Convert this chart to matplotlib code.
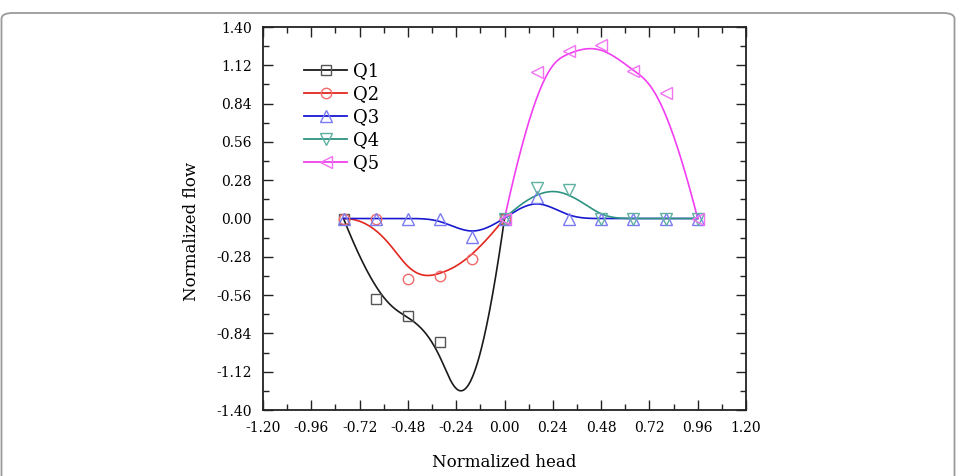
import numpy as np
import matplotlib
matplotlib.use("Agg")
import matplotlib.pyplot as plt
from matplotlib.lines import Line2D
from matplotlib.patches import FancyBboxPatch

# ---------------- data ----------------
q1_x = [-0.80, -0.64, -0.48, -0.32, -0.16, 0.00]
q1_y = [0.00, -0.59, -0.71, -0.90, -1.66, 0.00]   # -0.16 point lies below the axis range

q2_x = [-0.80, -0.64, -0.48, -0.32, -0.16, 0.00]
q2_y = [0.00, 0.00, -0.445, -0.42, -0.294, 0.00]

q3_x = [-0.80, -0.64, -0.48, -0.32, -0.16, 0.00, 0.16, 0.32, 0.48, 0.64, 0.80, 0.96]
q3_y = [0.00, 0.00, 0.00, 0.00, -0.137, 0.00, 0.16, 0.00, 0.00, 0.00, 0.00, 0.00]

q4_x = [0.00, 0.16, 0.32, 0.48, 0.64, 0.80, 0.96]
q4_y = [0.00, 0.22, 0.21, 0.00, 0.00, 0.00, 0.00]

q5_x = [0.00, 0.16, 0.32, 0.48, 0.64, 0.80, 0.96]
q5_y = [0.00, 1.073, 1.227, 1.268, 1.08, 0.915, 0.00]

labels = ["Q1", "Q2", "Q3", "Q4", "Q5"]
x_ticks = [-1.20, -0.96, -0.72, -0.48, -0.24, 0.00, 0.24, 0.48, 0.72, 0.96, 1.20]
y_ticks = [-1.40, -1.12, -0.84, -0.56, -0.28, 0.00, 0.28, 0.56, 0.84, 1.12, 1.40]


def bspline(xs, ys, n=500, k=3):
    """Clamped B-spline drawn over the data points (Origin-style B-spline line)."""
    P = np.column_stack([xs, ys]).astype(float)
    m = len(P)
    k = min(k, m - 1)
    knots = np.concatenate([np.zeros(k), np.linspace(0, 1, m - k + 1), np.ones(k)])
    t = np.linspace(0, 1, n)
    nk = len(knots)
    N = np.zeros((nk - 1, n))
    for i in range(nk - 1):
        N[i] = (t >= knots[i]) & (t < knots[i + 1])
    last = max(i for i in range(nk - 1) if knots[i] < knots[i + 1])
    N[last, t >= 1] = 1
    for p in range(1, k + 1):
        Nn = np.zeros((nk - 1 - p, n))
        for i in range(nk - 1 - p):
            d1 = knots[i + p] - knots[i]
            d2 = knots[i + p + 1] - knots[i + 1]
            a = (t - knots[i]) / d1 * N[i] if d1 > 0 else 0
            b = (knots[i + p + 1] - t) / d2 * N[i + 1] if d2 > 0 else 0
            Nn[i] = a + b
        N = Nn
    C = N.T @ P
    return C[:, 0], C[:, 1]


plt.rcParams['font.family'] = ['DejaVu Serif']
plt.rcParams['axes.unicode_minus'] = False

fig = plt.figure(figsize=(9.59, 4.76), dpi=100)
ax = fig.add_axes([263 / 959, 1 - 410 / 476, 483 / 959, 383 / 476])

series = [
    (q1_x, q1_y, '#1a1a1a', '#555555', 's', 6.5),
    (q2_x, q2_y, '#e3261d', '#f06a6a', 'o', 7.5),
    (q3_x, q3_y, '#1818d0', '#7a7af2', '^', 8),
    (q4_x, q4_y, '#2e9282', '#5fb0a2', 'v', 8),
    (q5_x, q5_y, '#f23ef2', '#f272f2', '<', 8),
]

handles = []
for (xs, ys, lc, mc, mk, ms), lab in zip(series, labels):
    cx, cy = bspline(xs, ys)
    ax.plot(cx, cy, color=lc, lw=1.2, zorder=2)
    ax.plot(xs, ys, ls='none', marker=mk, ms=ms, mfc='none', mec=mc, mew=1.0, zorder=3)
    handles.append(Line2D([], [], color=lc, lw=1.3, marker=mk, ms=ms, mfc='none',
                          mec=mc, mew=1.0))

ax.set_xlim(-1.2, 1.2)
ax.set_ylim(-1.4, 1.4)
ax.set_xticks(x_ticks)
ax.set_yticks(y_ticks)
ax.set_xticklabels([f"{v:.2f}" for v in x_ticks])
ax.set_yticklabels([f"{v:.2f}" for v in y_ticks])
ax.set_xticks(np.arange(-1.2, 1.2001, 0.12), minor=True)
ax.set_yticks(np.arange(-1.4, 1.4001, 0.14), minor=True)
ax.tick_params(which='both', direction='in', top=True, right=True,
               labelsize=10, width=1.0, color='#222222')
ax.tick_params(which='major', length=7)
ax.tick_params(axis='x', which='major', pad=8)
ax.tick_params(axis='y', which='major', pad=8)
ax.tick_params(which='minor', length=4)
for s in ax.spines.values():
    s.set_linewidth(1.3)
    s.set_color('#222222')

ax.set_xlabel("Normalized head", fontsize=12)
ax.set_ylabel("Normalized flow", fontsize=12)
ax.xaxis.set_label_coords(0.5, -0.115)
ax.yaxis.set_label_coords(-0.13, 0.465)

leg = ax.legend(handles, labels, loc='upper left', bbox_to_anchor=(0.07, 0.927),
                frameon=False, fontsize=13, handlelength=2.4, handletextpad=0.3,
                labelspacing=0.28, borderaxespad=0)

# outer rounded frame of the figure panel
frame = FancyBboxPatch((1.5 / 959, -0.05), 953 / 959, (476 - 13) / 476 + 0.05,
                       boxstyle="round,pad=0,rounding_size=0.012",
                       transform=fig.transFigure, fill=False, ec='#9a9a9a', lw=1.3,
                       clip_on=False)
fig.patches.append(frame)

fig.savefig("out.png", dpi=100)
